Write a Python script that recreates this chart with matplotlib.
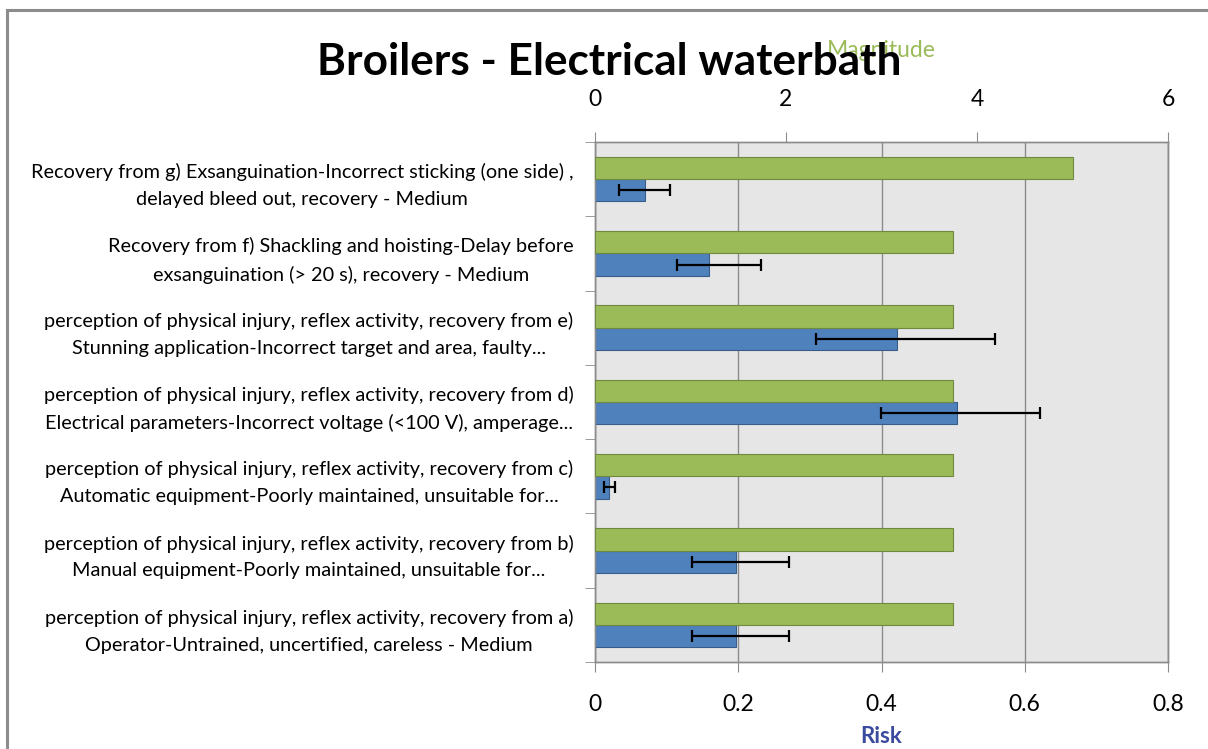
import numpy as np
import matplotlib.pyplot as plt
from matplotlib.lines import Line2D

# Kategoriler (yukaridan asagiya)
categories = [
    "Recovery from g) Exsanguination-Incorrect sticking (one side) ,\ndelayed bleed out, recovery - Medium",
    "Recovery from f) Shackling and hoisting-Delay before\nexsanguination (> 20 s), recovery - Medium",
    "perception of physical injury, reflex activity, recovery from e)\nStunning application-Incorrect target and area, faulty...",
    "perception of physical injury, reflex activity, recovery from d)\nElectrical parameters-Incorrect voltage (<100 V), amperage...",
    "perception of physical injury, reflex activity, recovery from c)\nAutomatic equipment-Poorly maintained, unsuitable for...",
    "perception of physical injury, reflex activity, recovery from b)\nManual equipment-Poorly maintained, unsuitable for...",
    "perception of physical injury, reflex activity, recovery from a)\nOperator-Untrained, uncertified, careless - Medium",
]
magnitude = [5.0, 3.75, 3.75, 3.75, 3.75, 3.75, 3.75]
risk = [0.070, 0.159, 0.422, 0.505, 0.019, 0.197, 0.197]
risk_low = [0.034, 0.115, 0.309, 0.399, 0.013, 0.136, 0.136]
risk_high = [0.105, 0.232, 0.558, 0.621, 0.028, 0.271, 0.271]

risk_ticks = [0, 0.2, 0.4, 0.6, 0.8]
risk_ticklabels = ["0", "0.2", "0.4", "0.6", "0.8"]
mag_ticks = [0, 2, 4, 6]

plt.rcParams['font.family'] = ['Lato', 'DejaVu Sans']

fig = plt.figure(figsize=(12.08, 7.49), dpi=100)
ax = fig.add_axes([595 / 1208, 1 - 662 / 749, 573 / 1208, 520 / 749])
ax.set_facecolor('#E6E6E6')

y = np.arange(len(categories))
h = 0.3

# Risk (mavi) - alt eksen
err = [np.array(risk) - np.array(risk_low), np.array(risk_high) - np.array(risk)]
ax.barh(y + h / 2, risk, height=h, color='#4F81BD', edgecolor='#385D8A', linewidth=0.8, zorder=3)
ax.errorbar(risk, y + h / 2, xerr=err, fmt='none', ecolor='black', elinewidth=1.6,
            capsize=4.5, capthick=1.6, zorder=5)
ax.set_xlim(0, 0.8)
ax.set_xticks(risk_ticks)
ax.set_xticklabels(risk_ticklabels)
ax.grid(axis='x', color='#8C8C8C', linewidth=1.0, zorder=1)
ax.set_axisbelow(True)

ax.set_ylim(len(categories) - 0.5, -0.5)
ax.set_yticks(y)
ax.set_yticklabels(categories, fontsize=14.3)
for t in ax.get_yticklabels():
    t.set_multialignment('center')
    t.set_linespacing(1.7)
ax.set_yticks(np.arange(len(categories) + 1) - 0.5, minor=True)
ax.tick_params(axis='y', which='major', length=0, pad=15.5)
ax.tick_params(axis='y', which='minor', length=7, color='#8C8C8C', direction='out')
ax.tick_params(axis='x', length=7, color='#8C8C8C', direction='out', labelsize=16.5, pad=16)
ax.set_xlabel("Risk", color='#3A4A9F', fontsize=16, fontweight='bold', labelpad=8)

# Magnitude (yesil) - ust eksen
ax2 = ax.twiny()
ax2.barh(y - h / 2, magnitude, height=h, color='#9BBB59', edgecolor='#71893F', linewidth=0.8, zorder=3)
ax2.set_xlim(0, 6)
ax2.set_xticks(mag_ticks)
ax2.tick_params(axis='x', length=7, color='#8C8C8C', direction='out', labelsize=16.5, pad=16)
ax2.set_xlabel("Magnitude", color='#9BBB59', fontsize=16.5, labelpad=23)
ax2.set_ylim(len(categories) - 0.5, -0.5)

for a in (ax, ax2):
    for s in a.spines.values():
        s.set_color('#8C8C8C')
        s.set_linewidth(1.0)

fig.text(609 / 1208, 1 - 62 / 749, "Broilers - Electrical waterbath", fontsize=31.8,
         fontweight='bold', ha='center', va='center')

# Cerceve
fig.add_artist(Line2D([7 / 1208, 7 / 1208], [0, 1 - 10 / 749], color='#8C8C8C', linewidth=2.2))
fig.add_artist(Line2D([7 / 1208, 1], [1 - 10 / 749, 1 - 10 / 749], color='#8C8C8C', linewidth=2.2))

fig.savefig('out.png', dpi=100)
